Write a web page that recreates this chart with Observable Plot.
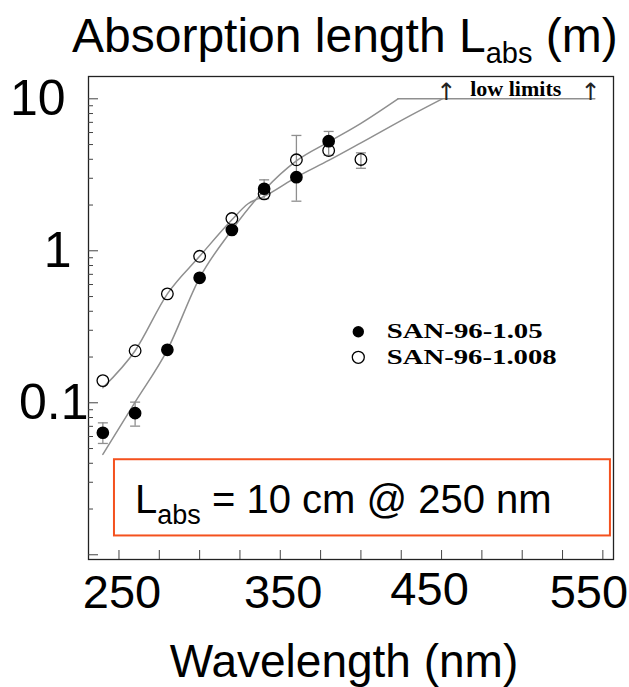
<!DOCTYPE html>
<html>
<head>
<meta charset="utf-8">
<script src="https://cdn.jsdelivr.net/npm/d3@7"></script>
<script src="https://cdn.jsdelivr.net/npm/@observablehq/plot@0.6"></script>
<style>
  html, body { margin: 0; padding: 0; background: #fff; }
  #chart { width: 629px; height: 687px; }
</style>
</head>
<body>
<div id="chart"></div>
<script>
// ---- data ----
const filledLambda = [240, 260, 280, 300, 320, 340, 360, 380];
const filledL      = [0.0635, 0.0855, 0.223, 0.664, 1.37, 2.56, 3.05, 5.26];
const filledLo     = [0.054, 0.0702, null, null, null, 2.2, 2.12, 4.25];
const filledHi     = [0.0738, 0.101, null, null, null, 2.93, 5.74, 6.1];

const openLambda = [240, 260, 280, 300, 320, 340, 360, 380, 400];
const openL      = [0.14, 0.22, 0.521, 0.92, 1.63, 2.37, 3.97, 4.57, 3.99];
const openLo     = [null, null, null, null, null, null, null, null, 3.49];
const openHi     = [null, null, null, null, null, null, null, null, 4.41];

// fitted curves
const fitALambda = [240, 260, 280, 300, 320, 340, 360, 380, 400, 423];
const fitAL      = [0.0457, 0.101, 0.223, 0.664, 1.37, 2.5, 3.9, 5.2, 6.9, 10];
const fitBLambda = [240, 260, 280, 300, 320, 330, 340, 360, 380, 400, 430, 450.4];
const fitBL      = [0.1256, 0.22, 0.521, 0.92, 1.6, 2.04, 2.28, 3.05, 3.93, 5.13, 7.7, 10];
const limitLambda = [423, 545];
const limitL      = [10, 10];

const seriesNames = ["SAN-96-1.05", "SAN-96-1.008"];
const yTickLabels = [10, 1, 0.1];
const xTickLabels = [250, 350, 450, 550];
const lowLimitArrows = [453, 542.3];
const lowLimitText = "low limits";
const annotationBox = {x1: 247.2, x2: 554.7, y1: 0.0133, y2: 0.0422};

// ---- build tables ----
const filled = filledLambda.map((x, i) => ({x, y: filledL[i], lo: filledLo[i], hi: filledHi[i]}));
const open = openLambda.map((x, i) => ({x, y: openL[i], lo: openLo[i], hi: openHi[i]}));
const errs = [...filled, ...open].filter(d => d.lo != null);
const caps = errs.flatMap(d => [{x: d.x, y: d.lo}, {x: d.x, y: d.hi}]);
const fitA = fitALambda.map((x, i) => ({x, y: fitAL[i]}));
const fitB = fitBLambda.map((x, i) => ({x, y: fitBL[i]}));
const limitLine = limitLambda.map((x, i) => ({x, y: limitL[i]}));

const xDomain = [231.1, 556.6];
const yDomain = [0.00931, 14.02];
const W = 629, H = 687, ML = 88, MR = 16, MT = 76, MB = 128;
const innerW = W - ML - MR, innerH = H - MT - MB;

const xTicks = d3.range(250, 551, 25);
const yMajor = [0.01, 0.1, 1, 10];
const yMinor = [0.01, 0.1, 1].flatMap(d => d3.range(2, 10).map(k => k * d))
  .filter(v => v > yDomain[0] && v < yDomain[1]);

const capSymbol = {draw(ctx) { ctx.moveTo(-5, 0); ctx.lineTo(5, 0); }};
const grey = "#8f8f8f";
const bigFont = "Liberation Sans, Arial, Helvetica, sans-serif";
const serif = "Liberation Serif, Times New Roman, serif";
const fmt = d => String(d);

const plot = Plot.plot({
  width: W, height: H,
  marginLeft: ML, marginRight: MR, marginTop: MT, marginBottom: MB,
  style: {background: "white", color: "black", fontFamily: bigFont, overflow: "visible"},
  x: {domain: xDomain},
  y: {type: "log", domain: yDomain},
  marks: [
    Plot.frame({stroke: "#222", strokeWidth: 1.3}),
    Plot.tickX(xTicks, {x: d => d, insetTop: innerH - 9, stroke: "#444"}),
    Plot.tickY(yMajor, {y: d => d, insetRight: innerW - 10, stroke: "#444"}),
    Plot.tickY(yMinor, {y: d => d, insetRight: innerW - 5, stroke: "#444"}),
    Plot.axisY({ticks: [yTickLabels[0]], tickFormat: fmt, tickSize: 0, tickPadding: 23, fontSize: 50, label: null, fontFamily: bigFont}),
    Plot.axisY({ticks: [yTickLabels[1]], tickFormat: fmt, tickSize: 0, tickPadding: 17, fontSize: 50, label: null, fontFamily: bigFont}),
    Plot.axisY({ticks: [yTickLabels[2]], tickFormat: fmt, tickSize: 0, tickPadding: 0, fontSize: 50, label: null, fontFamily: bigFont}),
    Plot.axisX({ticks: xTickLabels.slice(0, 2), tickFormat: fmt, tickSize: 0, tickPadding: 15, fontSize: 47, label: null, dx: 3, fontFamily: bigFont}),
    Plot.axisX({ticks: [xTickLabels[2]], tickFormat: fmt, tickSize: 0, tickPadding: 12, fontSize: 47, label: null, dx: -12, fontFamily: bigFont}),
    Plot.axisX({ticks: [xTickLabels[3]], tickFormat: fmt, tickSize: 0, tickPadding: 15, fontSize: 47, label: null, dx: -14, fontFamily: bigFont}),
    Plot.rect([annotationBox], {x1: "x1", x2: "x2", y1: "y1", y2: "y2", fill: "none", stroke: "#f4511e", strokeWidth: 2}),
    Plot.line(fitA, {x: "x", y: "y", stroke: grey, strokeWidth: 1.5, curve: "monotone-x"}),
    Plot.line(fitB, {x: "x", y: "y", stroke: grey, strokeWidth: 1.5, curve: "monotone-x"}),
    Plot.line(limitLine, {x: "x", y: "y", stroke: grey, strokeWidth: 1.5}),
    Plot.ruleX(errs, {x: "x", y1: "lo", y2: "hi", stroke: grey, strokeWidth: 1.3}),
    Plot.dot(caps, {x: "x", y: "y", symbol: capSymbol, stroke: grey, strokeWidth: 1.3, fill: "none"}),
    Plot.dot(filled, {x: "x", y: "y", r: 5.6, fill: "black", stroke: "black"}),
    Plot.dot(open, {x: "x", y: "y", r: 5.8, fill: "none", stroke: "black", strokeWidth: 1.3}),
    Plot.text(lowLimitArrows, {x: d => d, y: () => 10, text: () => "\u2191", dy: 1, lineAnchor: "bottom", fontSize: 24, fontFamily: "DejaVu Sans, sans-serif", fill: "#222"}),
    Plot.text([lowLimitText], {x: () => 496, y: () => 10, text: d => d, dy: -3, lineAnchor: "bottom", fontSize: 22, fontWeight: "bold", fontFamily: serif})
  ]
});

const svg = d3.select(plot);

// title
const t = svg.append("text").attr("x", 72).attr("y", 52).attr("text-anchor", "start")
  .attr("font-family", bigFont).attr("font-size", 48).attr("fill", "black");
t.append("tspan").text("Absorption length L");
t.append("tspan").attr("font-size", 29).attr("dy", 11).text("abs");
t.append("tspan").attr("dy", -11).text(" (m)");

// x axis title
svg.append("text").attr("x", 344).attr("y", 677).attr("text-anchor", "middle")
  .attr("font-family", bigFont).attr("font-size", 46).attr("fill", "black")
  .text("Wavelength (nm)");

// annotation text
const a = svg.append("text").attr("x", 135).attr("y", 513).attr("text-anchor", "start")
  .attr("font-family", bigFont).attr("font-size", 40).attr("fill", "black");
a.append("tspan").text("L");
a.append("tspan").attr("font-size", 27).attr("dy", 11).text("abs");
a.append("tspan").attr("dy", -11).text(" = 10 cm @ 250 nm");

// legend
const leg = svg.append("g");
leg.append("circle").attr("cx", 358.3).attr("cy", 331.7).attr("r", 5.7).attr("fill", "black");
leg.append("circle").attr("cx", 358.3).attr("cy", 357.3).attr("r", 6).attr("fill", "none").attr("stroke", "black").attr("stroke-width", 1.3);
leg.append("text").attr("x", 386.7).attr("y", 337.5).attr("text-anchor", "start").attr("font-family", serif).attr("font-weight", "bold")
  .attr("font-size", 20).attr("textLength", 156).attr("lengthAdjust", "spacingAndGlyphs").text(seriesNames[0]);
leg.append("text").attr("x", 386.7).attr("y", 364).attr("text-anchor", "start").attr("font-family", serif).attr("font-weight", "bold")
  .attr("font-size", 20).attr("textLength", 170).attr("lengthAdjust", "spacingAndGlyphs").text(seriesNames[1]);

document.getElementById("chart").appendChild(plot);
</script>
</body>
</html>
